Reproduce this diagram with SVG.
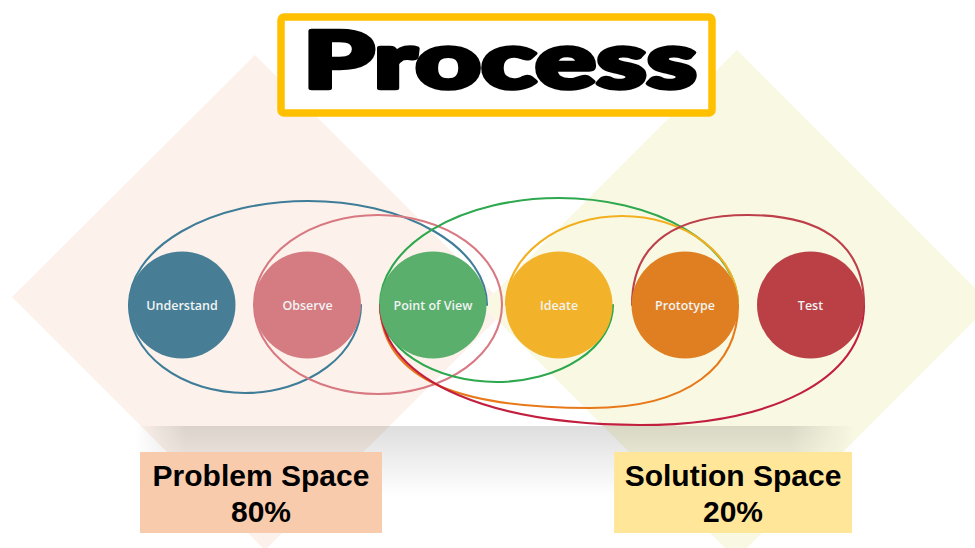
<svg xmlns="http://www.w3.org/2000/svg" width="975" height="548" viewBox="0 0 975 548">
<style>
.ring{fill:none;stroke-width:2.1;stroke-linecap:round}
.step{stroke:none}
.lbl{font-family:"Open Sans","Noto Sans","DejaVu Sans",sans-serif;font-weight:600;font-size:12.5px;fill:#F1F3F3;text-anchor:middle}
.space{font-family:"Liberation Sans",Arial,sans-serif;font-weight:bold;font-size:30px;fill:#000;text-anchor:middle}
</style>
<defs>
<linearGradient id="shadeV" x1="0" y1="0" x2="0" y2="1">
<stop offset="0" stop-color="#000" stop-opacity="0.13"/>
<stop offset="0.45" stop-color="#000" stop-opacity="0.07"/>
<stop offset="1" stop-color="#000" stop-opacity="0"/>
</linearGradient>
<linearGradient id="fadeH" x1="0" y1="0" x2="1" y2="0">
<stop offset="0" stop-color="#fff" stop-opacity="0"/>
<stop offset="0.07" stop-color="#fff" stop-opacity="1"/>
<stop offset="0.91" stop-color="#fff" stop-opacity="1"/>
<stop offset="1" stop-color="#fff" stop-opacity="0"/>
</linearGradient>
<mask id="bandMask" maskUnits="userSpaceOnUse" x="0" y="0" width="975" height="548">
<rect x="135" y="426" width="720" height="70" fill="url(#fadeH)"/>
</mask>
</defs>
<rect width="975" height="548" fill="#fff"/>
<g id="problem-area">
<polygon points="255,55 508,308 265,550 12,297" fill="#FCF2EB"/>
</g>
<g id="solution-area">
<polygon points="737,50 991,304 736,559 482,305" fill="#F9F9E3"/>
</g>
<g id="shadow">
<rect x="135" y="426" width="720" height="70" fill="url(#shadeV)" mask="url(#bandMask)"/>
</g>
<g id="title">
<rect x="281" y="17" width="431" height="96" rx="3" fill="#fff" stroke="#FFC000" stroke-width="7.5"/>
<text x="303" y="88" font-family="Lato,Roboto,'Noto Sans','DejaVu Sans',sans-serif" font-weight="900" font-size="79" fill="#000" stroke="#000" stroke-width="4.5" stroke-linejoin="round" textLength="394" lengthAdjust="spacingAndGlyphs">Process</text>
</g>
<g id="connectors">
<path class="ring" stroke="#3E7C98" d="M361,305 A116,88 0 0 1 129,305 A179,104 0 0 1 487,305"/>
<ellipse class="ring" stroke="#D87982" cx="378" cy="304.5" rx="124" ry="89.5"/>
<path class="ring" stroke="#2EA84F" d="M613,305 A116.5,77 0 0 1 380,305 A179,107 0 0 1 738,305"/>
<path class="ring" stroke="#F2B020" d="M506,305 A116,89 0 0 1 738,305"/>
<path class="ring" stroke="#E8791A" d="M380,305 C382,385 470,408 590,408 C690,408 738,365 738,305"/>
<path class="ring" stroke="#C21F3E" d="M380,305 C382,385 500,425 640,425 C770,425 864,380 864,305"/>
<path class="ring" stroke="#BD3F4A" d="M632,305 C632,240 680,215 748,215 C816,215 864,240 864,305"/>
</g>
<g id="understand">
<circle class="step" cx="182" cy="305" r="53.5" fill="#477E96"/>
<text class="lbl" x="182" y="309.5">Understand</text>
</g>
<g id="observe">
<circle class="step" cx="307.5" cy="305" r="53.5" fill="#D47C81"/>
<text class="lbl" x="307.5" y="309.5">Observe</text>
</g>
<g id="point-of-view">
<circle class="step" cx="433" cy="305" r="53.5" fill="#5AAF6C"/>
<text class="lbl" x="433" y="309.5">Point of View</text>
</g>
<g id="ideate">
<circle class="step" cx="559" cy="305" r="53.5" fill="#F2B22A"/>
<text class="lbl" x="559" y="309.5">Ideate</text>
</g>
<g id="prototype">
<circle class="step" cx="685" cy="305" r="53.5" fill="#E07F22"/>
<text class="lbl" x="685" y="309.5">Prototype</text>
</g>
<g id="test">
<circle class="step" cx="810.5" cy="305" r="53.5" fill="#BA4045"/>
<text class="lbl" x="810.5" y="309.5">Test</text>
</g>
<g id="problem-space">
<rect x="140" y="452" width="242" height="81" fill="#F8CBAD"/>
<text class="space" x="261" y="486">Problem Space</text>
<text class="space" x="261" y="522">80%</text>
</g>
<g id="solution-space">
<rect x="614" y="452" width="238" height="81" fill="#FFE699"/>
<text class="space" x="733" y="486">Solution Space</text>
<text class="space" x="733" y="522">20%</text>
</g>
</svg>
